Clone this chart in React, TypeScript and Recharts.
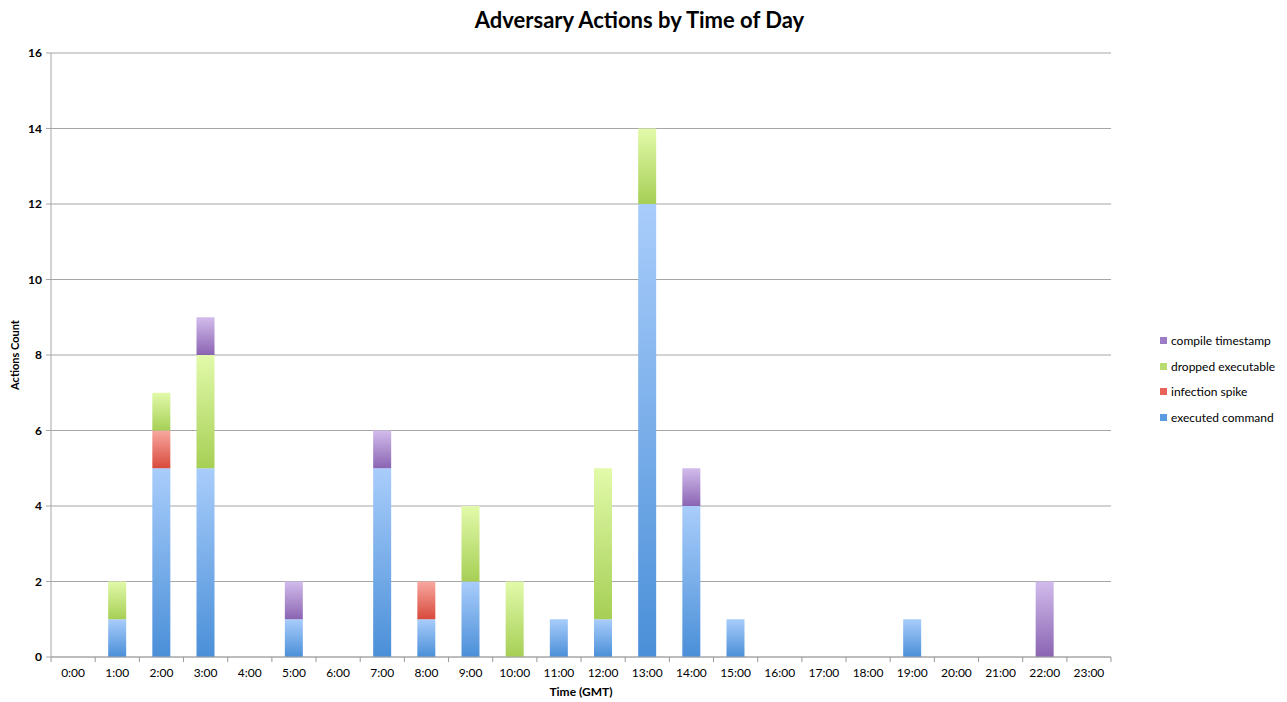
import React from "react";
import { BarChart, Bar, XAxis, YAxis, CartesianGrid, Legend } from "recharts";

const hours = ["0:00","1:00","2:00","3:00","4:00","5:00","6:00","7:00","8:00","9:00","10:00","11:00","12:00","13:00","14:00","15:00","16:00","17:00","18:00","19:00","20:00","21:00","22:00","23:00"];
const executedCommand = [0,1,5,5,0,1,0,5,1,2,0,1,1,12,4,1,0,0,0,1,0,0,0,0];
const infectionSpike = [0,0,1,0,0,0,0,0,1,0,0,0,0,0,0,0,0,0,0,0,0,0,0,0];
const droppedExecutable = [0,1,1,3,0,0,0,0,0,2,2,0,4,2,0,0,0,0,0,0,0,0,0,0];
const compileTimestamp = [0,0,0,1,0,1,0,1,0,0,0,0,0,0,1,0,0,0,0,0,0,0,2,0];
const yTicks = [0,2,4,6,8,10,12,14,16];

const data = hours.map((h, i) => ({
  hour: h,
  executed: executedCommand[i],
  infection: infectionSpike[i],
  dropped: droppedExecutable[i],
  compile: compileTimestamp[i],
}));

const series = [
  { key: "executed", name: "executed command", grad: "gBlue", swatch: "#5b9be0" },
  { key: "infection", name: "infection spike", grad: "gRed", swatch: "#e8625a" },
  { key: "dropped", name: "dropped executable", grad: "gGreen", swatch: "#b8dc70" },
  { key: "compile", name: "compile timestamp", grad: "gPurple", swatch: "#9c7cc4" },
];

const FONT = "Lato, 'Open Sans', sans-serif";

const LegendContent = () => (
  <div style={{ fontFamily: FONT, fontSize: 12, color: "#000" }}>
    {[...series].reverse().map((s) => (
      <div key={s.key} style={{ display: "flex", alignItems: "center", height: 25.5 }}>
        <span style={{ display: "inline-block", width: 7, height: 7, background: s.swatch, marginRight: 4 }} />
        <span>{s.name}</span>
      </div>
    ))}
  </div>
);

const XTick = (props: any) => {
  const { x, y, payload } = props;
  const half = 1058 / 24 / 2;
  return (
    <g>
      <line x1={x - half} y1={y - 8} x2={x - half} y2={y - 3} stroke="#999" />
      {payload.index === 23 && <line x1={x + half} y1={y - 8} x2={x + half} y2={y - 3} stroke="#999" />}
      <text x={x} y={y + 12} textAnchor="middle" fontSize={12} fill="#000" fontFamily={FONT}>
        {payload.value}
      </text>
    </g>
  );
};

export default function App() {
  return (
    <div style={{ position: "absolute", left: 0, top: 0, width: 1287, height: 702, background: "#fff" }}>
      <div
        style={{
          position: "absolute",
          left: 0,
          width: 1287,
          top: 6,
          textAlign: "center",
          fontFamily: FONT,
          fontWeight: 700,
          fontSize: 22,
          color: "#000",
          paddingRight: 8,
          boxSizing: "border-box",
        }}
      >
        Adversary Actions by Time of Day
      </div>
      <BarChart
        width={1287}
        height={702}
        data={data}
        margin={{ top: 53, right: 49, bottom: 0, left: 0 }}
        style={{ fontFamily: FONT }}
      >
        <defs>
          <linearGradient id="gBlue" x1="0" y1="0" x2="0" y2="1">
            <stop offset="0%" stopColor="#a9cdfb" />
            <stop offset="100%" stopColor="#4a8fd8" />
          </linearGradient>
          <linearGradient id="gRed" x1="0" y1="0" x2="0" y2="1">
            <stop offset="0%" stopColor="#f8a8a0" />
            <stop offset="100%" stopColor="#d84a3c" />
          </linearGradient>
          <linearGradient id="gGreen" x1="0" y1="0" x2="0" y2="1">
            <stop offset="0%" stopColor="#e2faaa" />
            <stop offset="100%" stopColor="#a6cf55" />
          </linearGradient>
          <linearGradient id="gPurple" x1="0" y1="0" x2="0" y2="1">
            <stop offset="0%" stopColor="#d2bcec" />
            <stop offset="100%" stopColor="#8a64b2" />
          </linearGradient>
        </defs>
        <CartesianGrid vertical={false} stroke="#a6a6a6" strokeWidth={1} />
        <XAxis
          dataKey="hour"
          interval={0}
          tickLine={false}
          axisLine={{ stroke: "#a6a6a6" }}
          tick={<XTick />}
          height={45}
          label={{ value: "Time (GMT)", position: "insideBottom", offset: 6, fontSize: 12, fontWeight: 700, fill: "#000", fontFamily: FONT }}
        />
        <YAxis
          domain={[0, 16]}
          ticks={yTicks}
          interval={0}
          width={51}
          tickSize={5}
          tickLine={{ stroke: "#a6a6a6" }}
          axisLine={{ stroke: "#a6a6a6" }}
          tick={{ fontSize: 12, fill: "#000", fontFamily: FONT, fontWeight: 700 }}
          tickMargin={4}
          label={{ value: "Actions Count", angle: -90, position: "insideLeft", offset: 15, fontSize: 11, fontWeight: 700, fill: "#000", fontFamily: FONT, style: { textAnchor: "middle" } }}
        />
        <Legend
          layout="horizontal"
          verticalAlign="middle"
          align="right"
          content={<LegendContent />}
          wrapperStyle={{ position: "absolute", left: 1160, top: 328, width: 127 }}
        />
        {series.map((s) => (
          <Bar
            key={s.key}
            dataKey={s.key}
            name={s.name}
            stackId="a"
            fill={`url(#${s.grad})`}
            barSize={18}
            isAnimationActive={false}
          />
        ))}
      </BarChart>
    </div>
  );
}
